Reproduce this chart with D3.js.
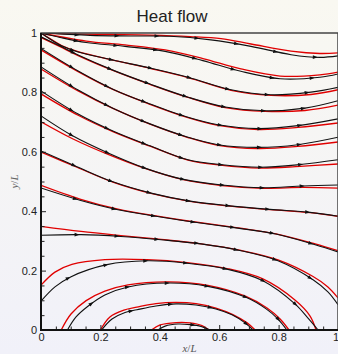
<!DOCTYPE html>
<html>
<head>
<meta charset="utf-8">
<script src="https://cdn.jsdelivr.net/npm/d3@7"></script>
<style>
html, body { margin: 0; padding: 0; }
body { width: 338px; height: 354px; overflow: hidden; }
</style>
</head>
<body>
<div id="container"></div>
<script>
// streamlines, numerical (black) : [x/L, y/L]
var num1 = [[0,1],[0.064,0.997],[0.165,0.992],[0.30,0.990],[0.434,0.989],[0.572,0.977],[0.707,0.955],[0.842,0.927],[0.939,0.918],[1,0.923]];
var num2 = [[0,1],[0.064,0.985],[0.152,0.968],[0.283,0.955],[0.418,0.938],[0.545,0.907],[0.673,0.871],[0.805,0.846],[0.939,0.851],[1,0.862]];
var num3 = [[0,1],[0.030,0.980],[0.071,0.956],[0.125,0.936],[0.242,0.909],[0.367,0.882],[0.495,0.851],[0.640,0.809],[0.774,0.792],[0.909,0.801],[1,0.817]];
var num4 = [[0,0.987],[0.064,0.956],[0.125,0.926],[0.242,0.875],[0.367,0.828],[0.495,0.784],[0.620,0.751],[0.754,0.738],[0.889,0.747],[1,0.772]];
var num5 = [[0,0.948],[0.125,0.872],[0.242,0.811],[0.367,0.761],[0.495,0.716],[0.596,0.691],[0.731,0.678],[0.865,0.688],[1,0.711]];
var num6 = [[0,0.886],[0.125,0.808],[0.242,0.747],[0.367,0.694],[0.495,0.649],[0.596,0.624],[0.731,0.615],[0.865,0.624],[1,0.649]];
var num7 = [[0,0.805],[0.125,0.727],[0.242,0.670],[0.367,0.620],[0.495,0.573],[0.603,0.557],[0.737,0.548],[0.872,0.557],[1,0.573]];
var num8 = [[0,0.721],[0.108,0.653],[0.226,0.596],[0.350,0.545],[0.475,0.508],[0.609,0.488],[0.747,0.479],[0.882,0.485],[1,0.488]];
var num9 = [[0,0.603],[0.121,0.550],[0.242,0.499],[0.374,0.460],[0.502,0.434],[0.636,0.418],[0.771,0.406],[0.906,0.396],[1,0.383]];
var num10 = [[0,0.478],[0.131,0.437],[0.259,0.405],[0.387,0.383],[0.495,0.366],[0.663,0.343],[0.791,0.323],[0.923,0.287],[1,0.263]];
var num11 = [[0,0.319],[0.135,0.321],[0.269,0.315],[0.404,0.304],[0.539,0.290],[0.673,0.267],[0.798,0.233],[0.916,0.169],[0.966,0.128],[1,0.085]];
var num12 = [[0,0.097],[0.047,0.145],[0.098,0.178],[0.222,0.220],[0.357,0.233],[0.492,0.225],[0.626,0.205],[0.747,0.166],[0.855,0.088],[0.899,0.040],[0.933,0]];
var num13 = [[0.089,0],[0.118,0.044],[0.158,0.080],[0.215,0.118],[0.293,0.145],[0.428,0.158],[0.562,0.147],[0.690,0.110],[0.758,0.071],[0.798,0.037],[0.828,0]];
var num14 = [[0.204,0],[0.239,0.037],[0.283,0.059],[0.323,0.068],[0.387,0.081],[0.455,0.088],[0.522,0.084],[0.589,0.071],[0.643,0.051],[0.687,0.024],[0.714,0]];
var num15 = [[0.394,0],[0.418,0.013],[0.461,0.020],[0.502,0.018],[0.539,0.012],[0.569,0]];

// streamlines, analytical (red)
var ana1 = [[0,1],[0.098,0.997],[0.232,0.995],[0.367,0.993],[0.502,0.988],[0.606,0.981],[0.707,0.963],[0.842,0.939],[0.939,0.931],[1,0.933]];
var ana2 = [[0,1],[0.152,0.973],[0.283,0.960],[0.418,0.943],[0.545,0.914],[0.673,0.879],[0.805,0.855],[0.939,0.859],[1,0.868]];
var ana3 = [[0,1],[0.030,0.981],[0.071,0.957],[0.125,0.937],[0.242,0.909],[0.367,0.881],[0.495,0.850],[0.640,0.807],[0.774,0.790],[0.909,0.793],[1,0.809]];
var ana4 = [[0,0.985],[0.064,0.954],[0.125,0.924],[0.242,0.874],[0.367,0.827],[0.495,0.783],[0.620,0.749],[0.754,0.736],[0.889,0.739],[1,0.757]];
var ana5 = [[0,0.943],[0.125,0.870],[0.242,0.810],[0.367,0.760],[0.495,0.715],[0.596,0.689],[0.731,0.675],[0.865,0.682],[1,0.697]];
var ana6 = [[0,0.879],[0.125,0.805],[0.242,0.746],[0.367,0.693],[0.495,0.648],[0.596,0.622],[0.731,0.611],[0.865,0.618],[1,0.633]];
var ana7 = [[0,0.795],[0.125,0.723],[0.242,0.668],[0.367,0.619],[0.495,0.572],[0.603,0.555],[0.737,0.545],[0.872,0.551],[1,0.559]];
var ana8 = [[0,0.701],[0.108,0.643],[0.226,0.591],[0.350,0.544],[0.475,0.507],[0.609,0.486],[0.747,0.477],[0.882,0.480],[1,0.478]];
var ana9 = [[0,0.599],[0.121,0.548],[0.242,0.498],[0.374,0.459],[0.502,0.433],[0.636,0.417],[0.771,0.405],[0.906,0.395],[1,0.383]];
var ana10 = [[0,0.487],[0.131,0.441],[0.259,0.407],[0.387,0.384],[0.495,0.367],[0.663,0.344],[0.791,0.324],[0.923,0.290],[1,0.267]];
var ana11 = [[0,0.349],[0.135,0.332],[0.269,0.318],[0.404,0.305],[0.539,0.290],[0.673,0.268],[0.798,0.236],[0.916,0.180],[0.966,0.145],[1,0.108]];
var ana12 = [[0,0.151],[0.047,0.195],[0.104,0.221],[0.215,0.237],[0.357,0.237],[0.492,0.227],[0.626,0.207],[0.747,0.172],[0.855,0.101],[0.906,0.047],[0.926,0]];
var ana13 = [[0.068,0],[0.101,0.054],[0.152,0.099],[0.215,0.131],[0.293,0.152],[0.428,0.162],[0.562,0.150],[0.690,0.113],[0.761,0.074],[0.805,0.037],[0.835,0]];
var ana14 = [[0.200,0],[0.232,0.044],[0.279,0.067],[0.323,0.077],[0.387,0.089],[0.455,0.093],[0.522,0.089],[0.589,0.074],[0.646,0.052],[0.694,0.024],[0.721,0]];
var ana15 = [[0.372,0],[0.401,0.017],[0.455,0.025],[0.502,0.024],[0.542,0.015],[0.566,0]];

var majorTicks = [0, 0.2, 0.4, 0.6, 0.8, 1];
var minorTicks = [0.05,0.1,0.15,0.25,0.3,0.35,0.45,0.5,0.55,0.65,0.7,0.75,0.85,0.9,0.95];

var numLines = [num1,num2,num3,num4,num5,num6,num7,num8,num9,num10,num11,num12,num13,num14,num15];
var anaLines = [ana1,ana2,ana3,ana4,ana5,ana6,ana7,ana8,ana9,ana10,ana11,ana12,ana13,ana14,ana15];

var W = 338, H = 354;
var x0 = 41, x1 = 338, yTop = 33, yBot = 330;

var svg = d3.select("#container").append("svg")
	.attr("width", W)
	.attr("height", H)
	.style("display", "block");

var defs = svg.append("defs");
var grad = defs.append("linearGradient")
	.attr("id", "bg")
	.attr("x1", 0).attr("y1", 0).attr("x2", 0).attr("y2", 1);
grad.append("stop").attr("offset", "0%").attr("stop-color", "#f9f8f1");
grad.append("stop").attr("offset", "100%").attr("stop-color", "#f1f1f9");

defs.append("clipPath").attr("id", "clip")
	.append("rect")
	.attr("x", x0).attr("y", yTop)
	.attr("width", x1 - x0).attr("height", yBot - yTop);

svg.append("rect")
	.attr("width", W).attr("height", H)
	.attr("fill", "url(#bg)");

var x = d3.scaleLinear().domain([0, 1]).range([x0, x1]);
var y = d3.scaleLinear().domain([0, 1]).range([yBot, yTop]);

var line = d3.line()
	.x(function(d) { return x(d[0]); })
	.y(function(d) { return y(d[1]); })
	.curve(d3.curveCatmullRom.alpha(0.5));

var plot = svg.append("g").attr("clip-path", "url(#clip)");

// red first, black on top
plot.selectAll(".ana")
	.data(anaLines).enter()
	.append("path")
	.attr("class", "ana")
	.attr("d", line)
	.attr("fill", "none")
	.attr("stroke", "#e00000")
	.attr("stroke-width", 1.3);

var numPaths = plot.selectAll(".num")
	.data(numLines).enter()
	.append("path")
	.attr("class", "num")
	.attr("d", line)
	.attr("fill", "none")
	.attr("stroke", "#111")
	.attr("stroke-width", 1.1);

// small arrow heads along the black lines
var step = 40;
numPaths.each(function() {
	var node = this;
	var len = node.getTotalLength();
	for (var s = 36; s < len - 8; s += step) {
		var p = node.getPointAtLength(s);
		var q = node.getPointAtLength(Math.min(s + 1, len));
		var ang = Math.atan2(q.y - p.y, q.x - p.x) * 180 / Math.PI;
		plot.append("path")
			.attr("d", "M2.6,0L-2.4,-1.8L-2.4,1.8Z")
			.attr("transform", "translate(" + p.x + "," + p.y + ") rotate(" + ang + ")")
			.attr("fill", "#111");
	}
});

// axes: minor ticks
var gxMinor = svg.append("g")
	.attr("transform", "translate(0," + yBot + ")")
	.call(d3.axisBottom(x).tickValues(minorTicks).tickSizeInner(-3.5).tickSizeOuter(0).tickFormat(""));
var gyMinor = svg.append("g")
	.attr("transform", "translate(" + x0 + ",0)")
	.call(d3.axisLeft(y).tickValues(minorTicks).tickSizeInner(-3.5).tickSizeOuter(0).tickFormat(""));

var gx = svg.append("g")
	.attr("transform", "translate(0," + yBot + ")")
	.call(d3.axisBottom(x).tickValues(majorTicks).tickSizeInner(-5).tickSizeOuter(0).tickPadding(3).tickFormat(d3.format("~g")));
var gy = svg.append("g")
	.attr("transform", "translate(" + x0 + ",0)")
	.call(d3.axisLeft(y).tickValues(majorTicks).tickSizeInner(-5).tickSizeOuter(0).tickPadding(4).tickFormat(d3.format("~g")));

[gxMinor, gyMinor, gx, gy].forEach(function(g) {
	g.select(".domain").remove();
	g.selectAll(".tick line").attr("stroke", "#222").attr("stroke-width", 1);
	g.selectAll("text")
		.attr("fill", "#222")
		.style("font-family", "'Liberation Sans', Arial, sans-serif")
		.style("font-size", "11px");
});
// keep the last x label inside the page
gx.selectAll(".tick text")
	.filter(function(d) { return d === 1; })
	.attr("text-anchor", "end")
	.attr("dx", "0.5");

// frame
svg.append("rect")
	.attr("x", x0).attr("y", yTop)
	.attr("width", x1 - x0).attr("height", yBot - yTop)
	.attr("fill", "none")
	.attr("stroke", "#444")
	.attr("stroke-width", 1.5);
svg.append("path")
	.attr("d", "M" + x0 + "," + yTop + "V" + yBot + "H" + x1)
	.attr("fill", "none")
	.attr("stroke", "#111")
	.attr("stroke-width", 2);

// labels
svg.append("text")
	.attr("x", 172).attr("y", 22)
	.attr("text-anchor", "middle")
	.attr("fill", "#222")
	.style("font-family", "'Liberation Sans', Arial, sans-serif")
	.style("font-size", "17px")
	.text("Heat flow");

var xl = svg.append("text")
	.attr("x", (x0 + x1) / 2).attr("y", 352)
	.attr("text-anchor", "middle")
	.attr("fill", "#555")
	.style("font-family", "'Liberation Serif', serif")
	.style("font-size", "11px");
xl.append("tspan").style("font-style", "italic").text("x");
xl.append("tspan").text("/");
xl.append("tspan").style("font-style", "italic").text("L");

var yl = svg.append("text")
	.attr("transform", "translate(18," + ((yTop + yBot) / 2) + ") rotate(-90)")
	.attr("text-anchor", "middle")
	.attr("fill", "#666")
	.style("font-family", "'Liberation Serif', serif")
	.style("font-size", "11px");
yl.append("tspan").style("font-style", "italic").text("y");
yl.append("tspan").text("/");
yl.append("tspan").style("font-style", "italic").text("L");
</script>
</body>
</html>
